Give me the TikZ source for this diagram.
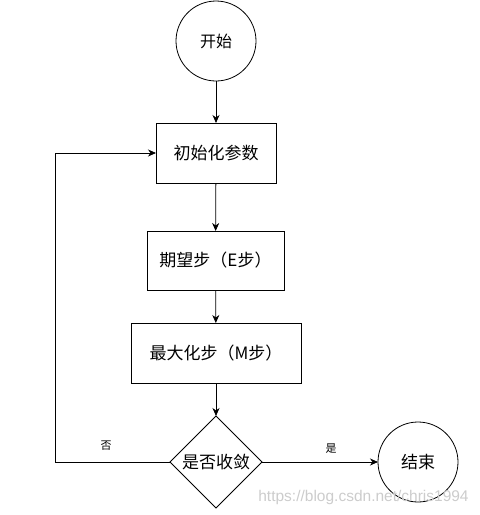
\documentclass[tikz,border=0pt]{standalone}
\usepackage{fontspec}
\setmainfont{Noto Sans CJK SC}
\newfontfamily\wmfont{Liberation Sans}
\usetikzlibrary{arrows.meta,shapes.geometric}
\begin{document}
\begin{tikzpicture}[x=1pt,y=-1pt,
  every node/.style={inner sep=0pt,outer sep=0pt},
  base/.style={draw,line width=0.8pt,font=\fontsize{17}{20}\selectfont},
  roundnode/.style={base,circle,minimum size=80pt},
  stepbox/.style={base,rectangle},
  decide/.style={base,diamond,aspect=1,minimum size=92pt},
  conn/.style={line width=0.8pt,-{Stealth[length=8pt,width=7pt,inset=2.5pt]}},
  lbl/.style={font=\fontsize{11}{13}\selectfont},
  wm/.style={font=\wmfont\fontsize{15.5}{18}\selectfont,text=black!20}]
\useasboundingbox (0,0) rectangle (480,515);
\node[roundnode,font=\fontsize{16}{19}\selectfont] (start) at (216,41) {开始};
\node[stepbox,minimum width=120pt,minimum height=60pt] (init) at (216,153) {初始化参数};
\node[stepbox,minimum width=137pt,minimum height=59pt] (estep) at (215.5,260.5) {期望步（E步）};
\node[stepbox,minimum width=170pt,minimum height=60pt] (mstep) at (216,353) {最大化步（M步）};
\node[decide] (dec) at (216,462) {是否收敛};
\node[roundnode] (fin) at (418,462) {结束};
\coordinate (loopc) at (55,462);
\draw[conn] (start) -- (init);
\draw[conn] (init) -- (estep);
\draw[conn] (estep) -- (mstep);
\draw[conn] (mstep) -- (dec);
\draw[conn] (dec) -- (fin);
\draw[conn] (dec.west) -- (loopc) |- (init.west);
\node[lbl] (yes) at (331,449) {是};
\node[lbl] (no) at (106,446) {否};
\node[wm] (wmk) at (363.5,497) {https://blog.csdn.net/chris1994};
\end{tikzpicture}
\end{document}
